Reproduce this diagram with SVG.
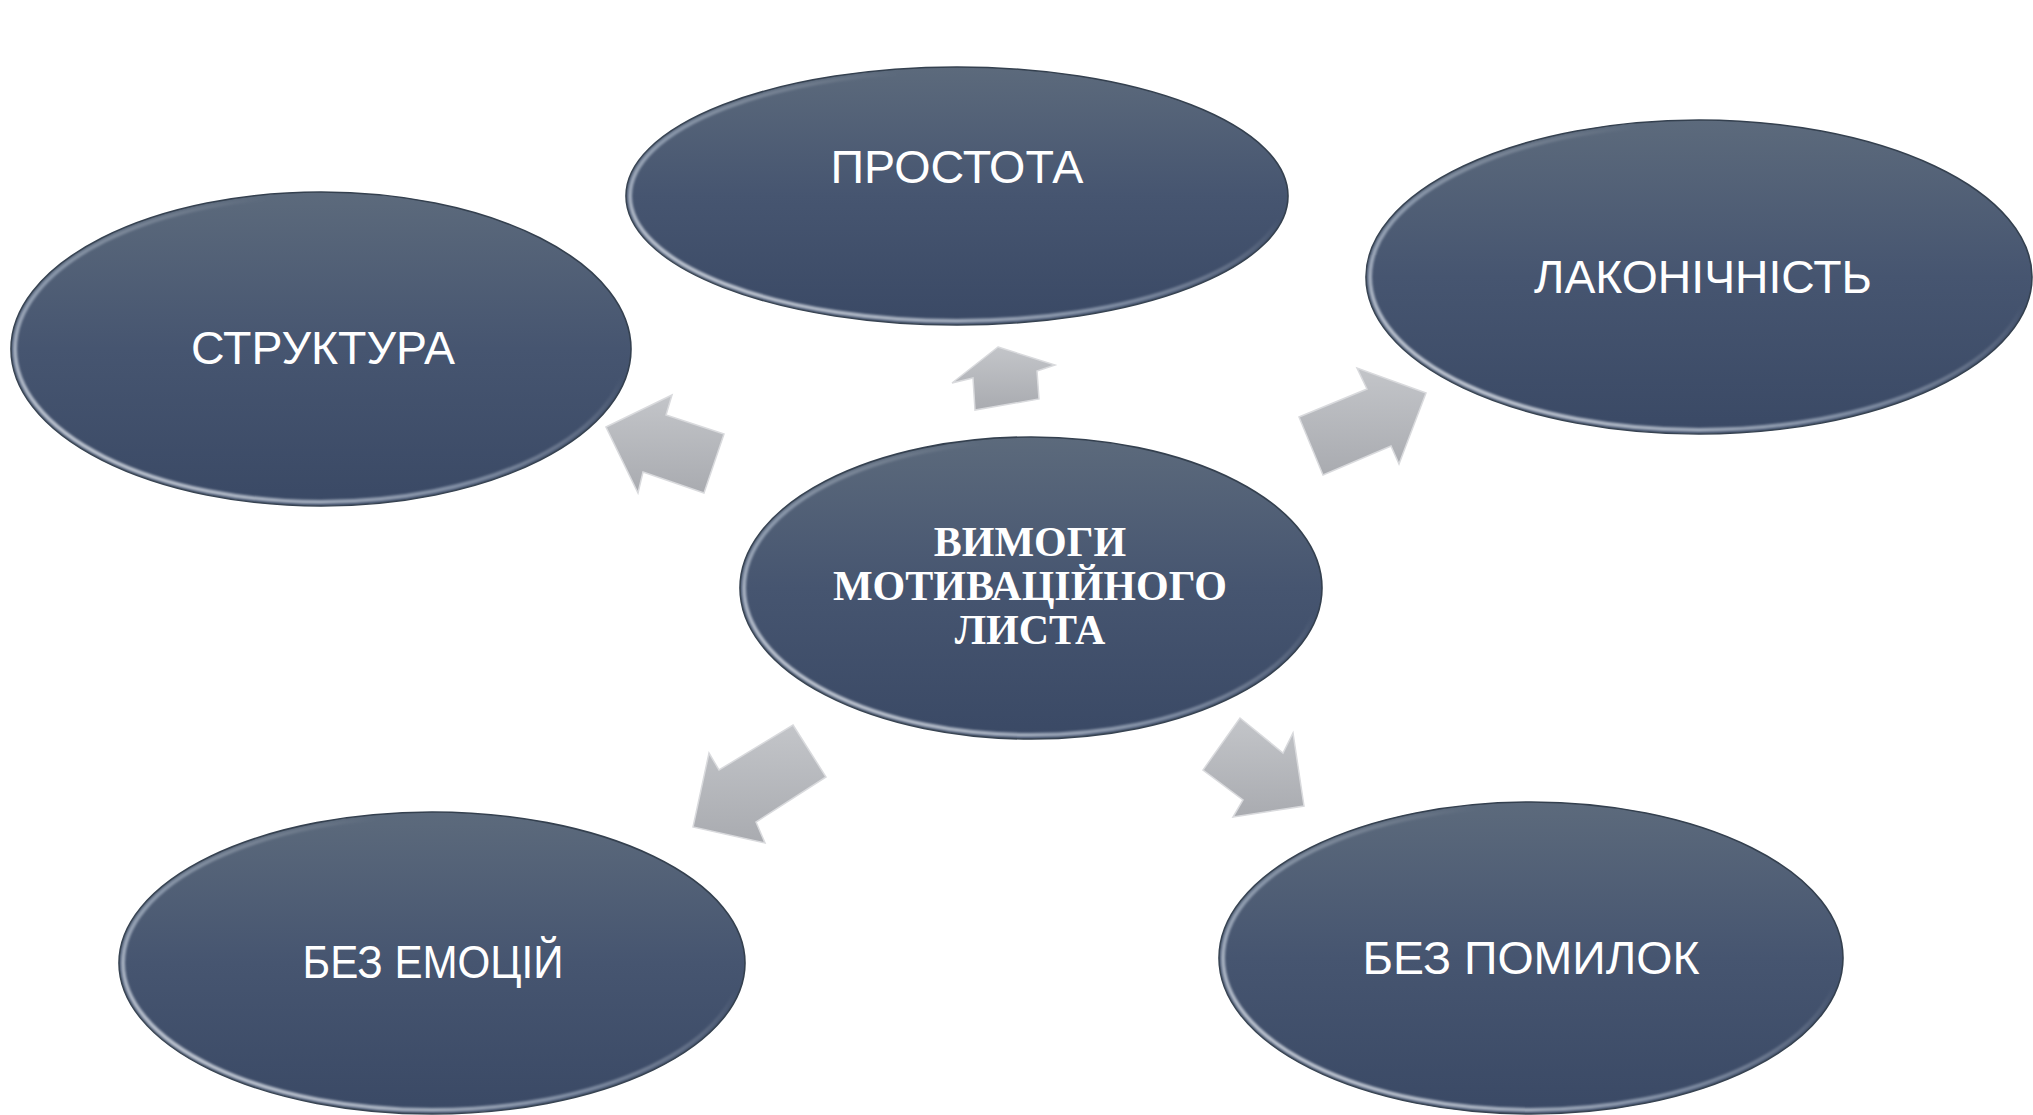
<svg xmlns="http://www.w3.org/2000/svg" width="2033" height="1115" viewBox="0 0 2033 1115">
  <defs>
    <linearGradient id="fillG" x1="0" y1="0" x2="0" y2="1">
      <stop offset="0" stop-color="#5c6a7c"/>
      <stop offset="0.5" stop-color="#465570"/>
      <stop offset="1" stop-color="#3a4965"/>
    </linearGradient>
    <linearGradient id="glint2" x1="0" y1="1" x2="1" y2="0">
      <stop offset="0" stop-color="#ffffff" stop-opacity="0.85"/>
      <stop offset="0.4" stop-color="#cfdbea" stop-opacity="0.45"/>
      <stop offset="0.7" stop-color="#ffffff" stop-opacity="0"/>
    </linearGradient>
    <linearGradient id="arrG" x1="0" y1="0" x2="0" y2="1">
      <stop offset="0" stop-color="#c3c5c9"/>
      <stop offset="1" stop-color="#a9abb0"/>
    </linearGradient>
    <filter id="soft" x="-5%" y="-5%" width="110%" height="110%">
      <feGaussianBlur stdDeviation="1.2"/>
    </filter>
  </defs>
  <style>
    .base { fill: url(#fillG); stroke: #34404f; stroke-width: 1.6; }
    .hl { fill: none; stroke: url(#glint2); stroke-width: 4; filter: url(#soft); }
    .lbl { font-family: "Liberation Sans", Arial, sans-serif; font-size: 47px; fill: #ffffff; text-anchor: middle; }
    .ctr { font-family: "Liberation Serif", "Times New Roman", serif; font-size: 42px; font-weight: bold; fill: #ffffff; text-anchor: middle; }
    .arr { fill: url(#arrG); stroke: #d9dadd; stroke-width: 1.5; stroke-linejoin: miter; }
  </style>
  <rect width="2033" height="1115" fill="#ffffff"/>

  <g id="connectors">
    <polygon class="arr" points="998,347 1055,365 1037,371 1039,399 975,410 973,378 952,383"/>
    <polygon class="arr" points="606,427 672,395 666,415 724,434 704,493 643,472 638,493"/>
    <polygon class="arr" points="1323,475 1299,417 1367,389 1357,368 1426,393 1399,464 1391,446"/>
    <polygon class="arr" points="793,725 826,777 756,822 765,843 693,827 709,753 719,770"/>
    <polygon class="arr" points="1240,718 1283,753 1293,733 1304,806 1233,817 1243,800 1203,770"/>
  </g>

  <g id="node-prostota">
    <ellipse class="base" cx="957" cy="196" rx="331" ry="129"/>
    <ellipse class="hl" cx="957" cy="196" rx="327" ry="125"/>
    <text class="lbl" x="957" y="183" textLength="253" lengthAdjust="spacingAndGlyphs">ПРОСТОТА</text>
  </g>

  <g id="node-struktura">
    <ellipse class="base" cx="321" cy="349" rx="310" ry="157"/>
    <ellipse class="hl" cx="321" cy="349" rx="306" ry="153"/>
    <text class="lbl" x="323" y="364" textLength="264" lengthAdjust="spacingAndGlyphs">СТРУКТУРА</text>
  </g>

  <g id="node-lakonichnist">
    <ellipse class="base" cx="1699" cy="277" rx="333" ry="157"/>
    <ellipse class="hl" cx="1699" cy="277" rx="329" ry="153"/>
    <text class="lbl" x="1703" y="293" textLength="338" lengthAdjust="spacingAndGlyphs">ЛАКОНІЧНІСТЬ</text>
  </g>

  <g id="node-center">
    <ellipse class="base" cx="1031" cy="588" rx="291" ry="151"/>
    <ellipse class="hl" cx="1031" cy="588" rx="287" ry="147"/>
    <text class="ctr" x="1030" y="556">ВИМОГИ</text>
    <text class="ctr" x="1030" y="600">МОТИВАЦІЙНОГО</text>
    <text class="ctr" x="1030" y="644">ЛИСТА</text>
  </g>

  <g id="node-bez-emotsiy">
    <ellipse class="base" cx="432" cy="963" rx="313" ry="151"/>
    <ellipse class="hl" cx="432" cy="963" rx="309" ry="147"/>
    <text class="lbl" x="433" y="978" textLength="261" lengthAdjust="spacingAndGlyphs">БЕЗ ЕМОЦІЙ</text>
  </g>

  <g id="node-bez-pomylok">
    <ellipse class="base" cx="1531" cy="958" rx="312" ry="156"/>
    <ellipse class="hl" cx="1531" cy="958" rx="308" ry="152"/>
    <text class="lbl" x="1531" y="974" textLength="337" lengthAdjust="spacingAndGlyphs">БЕЗ ПОМИЛОК</text>
  </g>
</svg>
